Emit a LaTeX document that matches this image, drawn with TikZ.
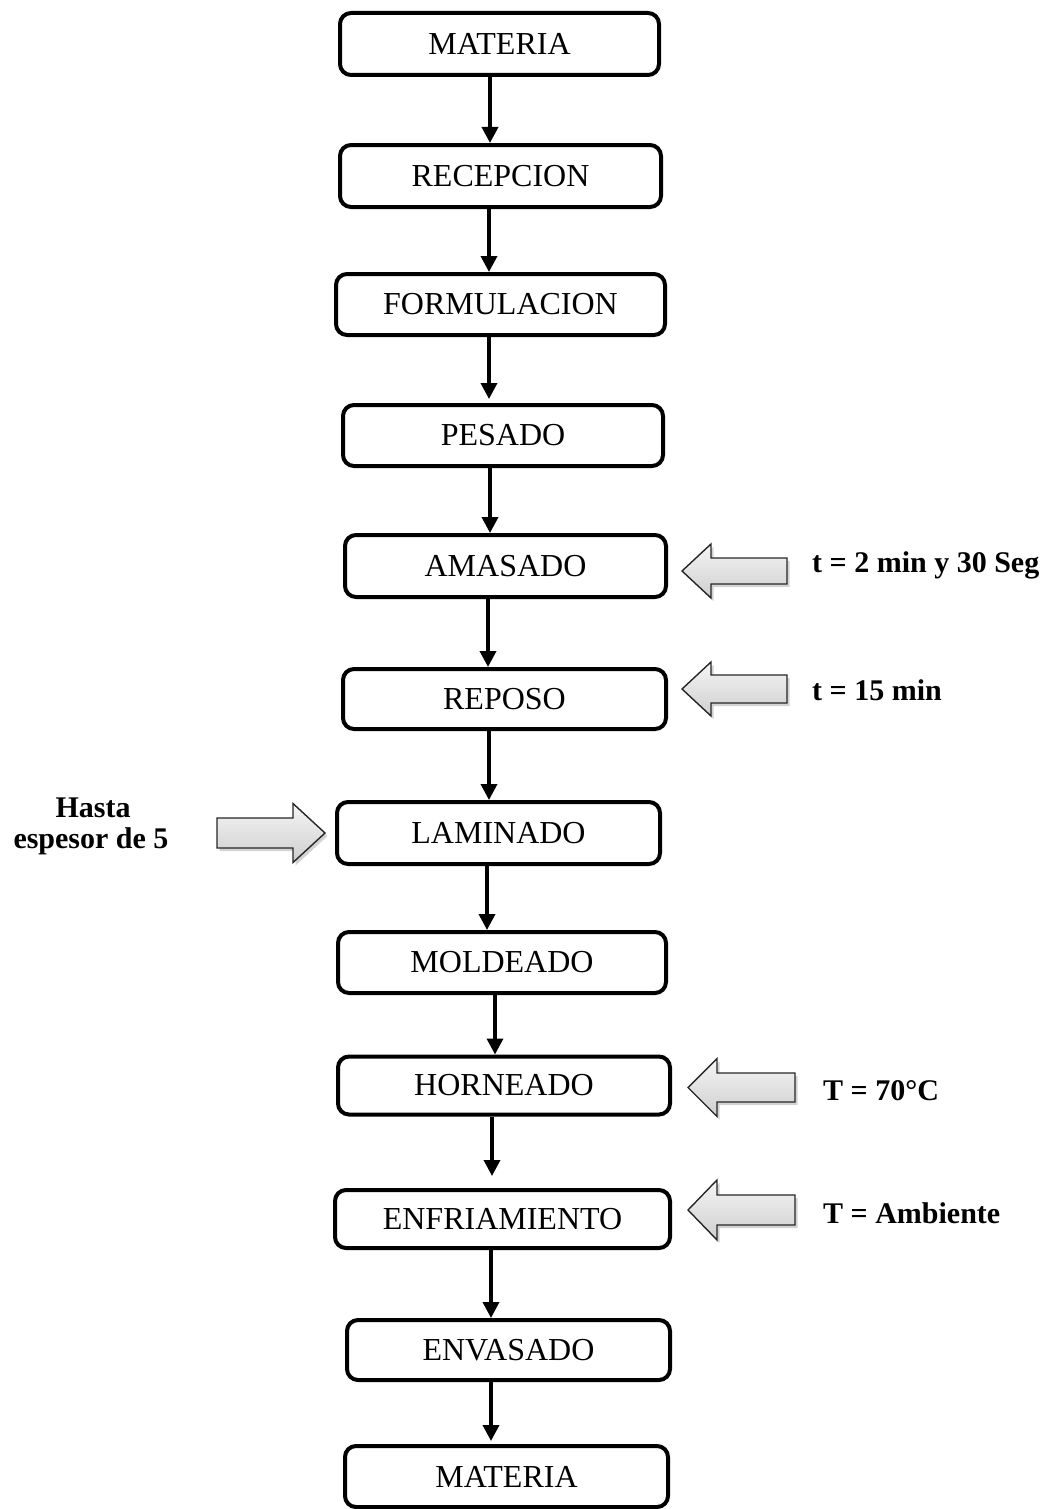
\documentclass[tikz,border=0pt]{standalone}
\usepackage{fontspec}
\setmainfont{Liberation Serif}
\usetikzlibrary{arrows.meta,shadows}
\tikzset{
  box/.style={draw=black, line width=4pt, rounded corners=11pt, fill=white,
    inner sep=0pt, font=\fontsize{32}{36}\selectfont},
  conn/.style={line width=3.6pt, -{Triangle[length=16pt,width=16pt]}},
  lbl/.style={inner sep=0pt, font=\fontsize{30}{31}\selectfont\bfseries},
  blk/.style={draw=black!85, line width=1.4pt, line join=miter,
    top color=gray!8, bottom color=gray!38,
    drop shadow={opacity=0.35, shadow xshift=2.5pt, shadow yshift=-3pt}}
}
\newcommand\leftblock[6]{% tip, headbase, tail, cy, head half, body half
  \path[blk] (#1,#4) -- (#2,#4-#5) -- (#2,#4-#6) -- (#3,#4-#6) -- (#3,#4+#6)
    -- (#2,#4+#6) -- (#2,#4+#5) -- cycle;}
\newcommand\rightblock[6]{%
  \path[blk] (#1,#4) -- (#2,#4-#5) -- (#2,#4-#6) -- (#3,#4-#6) -- (#3,#4+#6)
    -- (#2,#4+#6) -- (#2,#4+#5) -- cycle;}
\begin{document}
\begin{tikzpicture}[x=1pt,y=-1pt]
\useasboundingbox (0,0) rectangle (1058,1509);
\node[box, minimum width=319pt, minimum height=62pt] (m1) at (499.5,44) {MATERIA};
\node[box, minimum width=321pt, minimum height=62pt] (rec) at (500.5,176) {RECEPCION};
\node[box, minimum width=329pt, minimum height=61pt] (for) at (500.5,304.5) {FORMULACION};
\node[box, minimum width=320pt, minimum height=61pt] (pes) at (503,435.5) {PESADO};
\node[box, minimum width=321pt, minimum height=62pt] (ama) at (505.5,566) {AMASADO};
\node[box, minimum width=323pt, minimum height=60pt] (rep) at (504.5,699) {REPOSO};
\node[box, minimum width=323pt, minimum height=62pt] (lam) at (498.5,833) {LAMINADO};
\node[box, minimum width=328pt, minimum height=61pt] (mol) at (502,962.5) {MOLDEADO};
\node[box, minimum width=332pt, minimum height=58pt] (hor) at (504,1085.5) {HORNEADO};
\node[box, minimum width=335pt, minimum height=58pt] (enf) at (502.5,1219) {ENFRIAMIENTO};
\node[box, minimum width=323pt, minimum height=60pt] (env) at (508.5,1350) {ENVASADO};
\node[box, minimum width=323pt, minimum height=61pt] (m2) at (506.5,1476.5) {MATERIA};
% connectors
\draw[conn] (m1.south -| 490,0) -- (rec.north -| 490,0);
\draw[conn] (rec.south -| 489,0) -- (for.north -| 489,0);
\draw[conn] (for.south -| 489,0) -- ([yshift=4pt]pes.north -| 489,0);
\draw[conn] (pes.south -| 490,0) -- (ama.north -| 490,0);
\draw[conn] (ama.south -| 488,0) -- (rep.north -| 488,0);
\draw[conn] (rep.south -| 489,0) -- (lam.north -| 489,0);
\draw[conn] (lam.south -| 487,0) -- (mol.north -| 487,0);
\draw[conn] (mol.south -| 495,0) -- (hor.north -| 495,0);
\draw[conn] (hor.south -| 492,0) -- ([yshift=12pt]enf.north -| 492,0);
\draw[conn] (enf.south -| 491,0) -- (env.north -| 491,0);
\draw[conn] (env.south -| 491,0) -- ([yshift=3pt]m2.north -| 491,0);
% block arrows
\leftblock{682}{711}{787}{571}{27}{13}
\leftblock{682}{711}{787}{689}{27}{14}
\leftblock{688}{717}{795}{1087.5}{29}{14.5}
\leftblock{688}{717}{795}{1210}{30}{15}
\rightblock{325}{293}{217}{833}{29.5}{15}
% labels
\node[lbl, anchor=base west] (l1) at (812,572) {t = 2 min y 30 Seg};
\node[lbl, anchor=base west] (l2) at (812,700) {t = 15 min};
\node[lbl, anchor=base west] (l3) at (823,1100) {T = 70°C};
\node[lbl, anchor=base west] (l4) at (823,1223) {T = Ambiente};
\node[lbl, anchor=base] (l5a) at (93,817) {Hasta};
\node[lbl, anchor=base] (l5b) at (91,848) {espesor de 5};
\end{tikzpicture}
\end{document}
